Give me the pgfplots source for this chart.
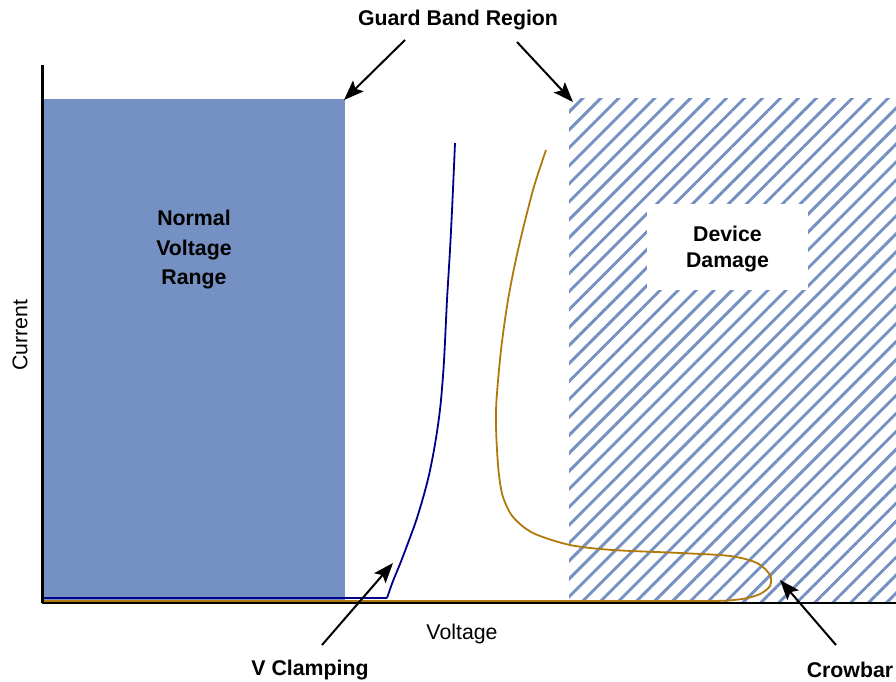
\documentclass[border=0pt]{standalone}
\usepackage{pgfplots}
\pgfplotsset{compat=1.18}
\usepackage{fontspec}
\setmainfont{Liberation Sans}
\usetikzlibrary{patterns.meta,arrows.meta}
\definecolor{fillblue}{RGB}{117,144,194}
\definecolor{curveblue}{RGB}{0,0,139}
\definecolor{curvegold}{RGB}{176,122,10}
\begin{document}
\begin{tikzpicture}
\path[use as bounding box] (0,0) rectangle (896pt,681pt);
\begin{axis}[at={(42pt,78pt)}, anchor=south west, scale only axis,
  width=854pt, height=538pt, xmin=42, xmax=896, ymin=78, ymax=616,
  axis x line=bottom, axis y line=left, axis line style={-},
  x axis line style={line width=2pt}, y axis line style={line width=3pt},
  xtick=\empty, ytick=\empty, clip=false, axis on top,
  font=\fontsize{21.3}{29}\selectfont]
% Normal voltage range
\addplot[fill=fillblue, draw=none] coordinates {(42,78) (345,78) (345,582) (42,582)} -- cycle;
% Device damage region
\addplot[draw=none, pattern={Lines[angle=45, distance=12.7pt, line width=2.9pt]}, pattern color=fillblue]
  coordinates {(569,78) (896,78) (896,582) (569,582)} -- cycle;
% V clamping curve
\addplot[curveblue, line width=1.8pt] coordinates {(42,83) (387,83)};
\addplot[curveblue, line width=1.8pt, smooth, tension=0.5] coordinates {
 (387,83) (393,100) (400,117) (408,138) (416,160) (423,183) (429,206) (434,231)
 (438,256) (441,281) (444,320) (447,381) (450,431) (452.5,481) (455,538)};
% Crowbar curve
\addplot[curvegold, line width=1.8pt] coordinates {(42,80) (700,80)};
\addplot[curvegold, line width=1.8pt, smooth, tension=0.5] coordinates {
 (700,80) (725,80.3) (745,82.5) (760,87) (770,95) (770,106) (757,118)
 (730,125) (680,128) (613,131) (570,136) (533,148) (513,164) (503,184)
 (499,206) (497,231) (496,256) (496.5,281) (501,331) (508,381) (518,431)
 (533,491) (546,531)};
% text
\node[align=center, font=\bfseries\fontsize{21.3}{29.5}\selectfont] at (axis cs:194,431) {Normal\\Voltage\\Range};
\node[fill=white, minimum width=161pt, minimum height=86pt, align=center,
  font=\bfseries\fontsize{21.3}{25.5}\selectfont] at (axis cs:727.5,434) {};
\node[align=center, font=\bfseries\fontsize{21.3}{25.5}\selectfont] at (axis cs:727.5,432) {Device\\Damage};
\node[font=\bfseries\fontsize{21.3}{25}\selectfont] at (axis cs:458,661) {Guard Band Region};
\node[font=\bfseries\fontsize{21.3}{25}\selectfont] at (axis cs:310,11) {V Clamping};
\node[font=\bfseries\fontsize{21.3}{25}\selectfont] at (axis cs:850,11) {Crowbar};
\node at (axis cs:462,47) {Voltage};
\node[rotate=90] at (axis cs:20,346) {Current};
% arrows
\draw[-{Stealth[length=20pt,width=15pt,inset=4pt]}, line width=2pt] (axis cs:405,641) -- (axis cs:344,581);
\draw[-{Stealth[length=20pt,width=15pt,inset=4pt]}, line width=2pt] (axis cs:517,639) -- (axis cs:573,579);
\draw[-{Stealth[length=20pt,width=15pt,inset=4pt]}, line width=2pt] (axis cs:322,36) -- (axis cs:393,118);
\draw[-{Stealth[length=20pt,width=15pt,inset=4pt]}, line width=2pt] (axis cs:836,36) -- (axis cs:780,101);
\end{axis}
\end{tikzpicture}
\end{document}
